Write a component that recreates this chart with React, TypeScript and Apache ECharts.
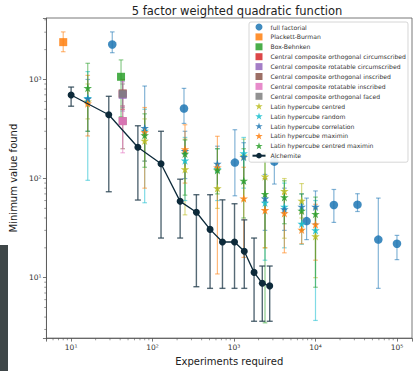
import React, { useEffect, useRef } from 'react';
import * as echarts from 'echarts';

const X_MIN = 4.98;
const X_MAX = 153000;
const Y_MIN = 2.455;
const Y_MAX = 4170;

const TITLE = '5 factor weighted quadratic function';
const X_NAME = 'Experiments required';
const Y_NAME = 'Minimum value found';
const SUPERSCRIPTS = ['⁰', '¹', '²', '³', '⁴', '⁵', '⁶'];

// full factorial
const FF_X = [32, 243, 1024, 3125, 7776, 16807, 32768, 59049, 100000];
const FF_Y = [2255, 509, 145, 148, 37.2, 54.1, 54.5, 24.2, 22];
const FF_LO = [1862, 360, 67, 88, 24.2, 36.1, 46.5, 7.8, 15.2];
const FF_HI = [3020, 813, 311, 260, 63.5, 77.6, 70.3, 63.5, 26.7];

// Plackett-Burman
const PB_X = [8];
const PB_Y = [2380];
const PB_LO = [1905];
const PB_HI = [3020];

// Box-Behnken
const BB_X = [41];
const BB_Y = [1064];
const BB_LO = [420];
const BB_HI = [1575];

// Central composite designs
const CC_X = [43];
const CCOC_Y = [720];
const CCOC_LO = [500];
const CCOC_HI = [1000];
const CCRC_Y = [700];
const CCRC_LO = [480];
const CCRC_HI = [950];
const CCOI_Y = [380];
const CCOI_LO = [200];
const CCOI_HI = [540];
const CCRI_Y = [380];
const CCRI_LO = [182];
const CCRI_HI = [537];
const CCOF_Y = [719];
const CCOF_LO = [520];
const CCOF_HI = [900];

// Latin hypercube designs
const LHS_X = [16, 80, 250, 625, 1315, 2400, 4150, 6760, 10000];
const LHC_Y = [600, 241, 124, 80, 170, 105, 75, 59.8, 26.1];
const LHC_LO = [400, 150, 43, 50, 60, 20, 25, 40, 10];
const LHC_HI = [900, 400, 250, 140, 250, 180, 100, 89, 50];
const LHR_Y = [650, 304, 152, 125, 180, 57, 52, 34.9, 30];
const LHR_LO = [96, 57, 60, 60, 80, 15, 20, 21.7, 3.7];
const LHR_HI = [1200, 500, 260, 200, 260, 100, 90, 55, 60];
const LHK_Y = [640, 324, 190, 141, 165, 63, 49, 52, 52];
const LHK_LO = [300, 150, 100, 80, 90, 30, 30, 35, 35];
const LHK_HI = [1000, 858, 300, 212, 230, 110, 80, 70, 75];
const LHM_Y = [571, 293, 197, 129, 63, 48, 44.7, 30.4, 34.4];
const LHM_LO = [269, 80, 90, 10.9, 16, 20, 17.8, 22, 15];
const LHM_HI = [1100, 521, 349, 267, 130, 100, 70, 45, 55];
const LHCM_Y = [818, 273, 178, 121, 95, 70, 64.6, 47.4, 43.9];
const LHCM_LO = [300, 130, 68, 70, 40, 3.5, 35, 30, 8];
const LHCM_HI = [1456, 450, 245, 200, 200, 150, 95, 70, 65];

// Alchemite
const AL_X = [10, 29, 66, 127, 218, 345, 508, 721, 1014, 1336, 1762, 2223, 2741];
const AL_Y = [697, 440, 207, 141, 58.9, 45.7, 30.7, 22.9, 22.9, 18.5, 11.3, 8.77, 8.26];
const AL_LO = [537, 73.6, 60.7, 25.1, 25.1, 8.1, 7.8, 7.8, 7.8, 7.8, 3.63, 3.63, 3.63];
const AL_HI = [838, 676, 341, 300, 98.5, 68.7, 68.7, 61, 55.7, 38.3, 25.1, 13.1, 13.1];

const STAR = 'path://M50,2 L61.2,36.2 L97.6,36.2 L68.2,57.6 L79.4,92 L50,70.8 L20.6,92 L31.8,57.6 L2.4,36.2 L38.8,36.2 Z';
const SQUARE = 'path://M0,0 L10,0 L10,10 L0,10 Z';
const FONT = 'DejaVu Sans';

type Spec = { name: string; color: string; symbol: string; size: number; x: number[]; y: number[]; lo: number[]; hi: number[]; legendIcon: string };

const SPECS: Spec[] = [
  { name: 'full factorial', color: '#1f77b4', symbol: 'circle', size: 8.5, x: FF_X, y: FF_Y, lo: FF_LO, hi: FF_HI, legendIcon: 'circle' },
  { name: 'Plackett-Burman', color: '#ff7f0e', symbol: SQUARE, size: 8, x: PB_X, y: PB_Y, lo: PB_LO, hi: PB_HI, legendIcon: SQUARE },
  { name: 'Box-Behnken', color: '#2ca02c', symbol: SQUARE, size: 8, x: BB_X, y: BB_Y, lo: BB_LO, hi: BB_HI, legendIcon: SQUARE },
  { name: 'Central composite orthogonal circumscribed', color: '#d62728', symbol: SQUARE, size: 8, x: CC_X, y: CCOC_Y, lo: CCOC_LO, hi: CCOC_HI, legendIcon: SQUARE },
  { name: 'Central composite rotatable circumscribed', color: '#9467bd', symbol: SQUARE, size: 8, x: CC_X, y: CCRC_Y, lo: CCRC_LO, hi: CCRC_HI, legendIcon: SQUARE },
  { name: 'Central composite orthogonal inscribed', color: '#8c564b', symbol: SQUARE, size: 8, x: CC_X, y: CCOI_Y, lo: CCOI_LO, hi: CCOI_HI, legendIcon: SQUARE },
  { name: 'Central composite rotatable inscribed', color: '#e377c2', symbol: SQUARE, size: 8, x: CC_X, y: CCRI_Y, lo: CCRI_LO, hi: CCRI_HI, legendIcon: SQUARE },
  { name: 'Central composite orthogonal faced', color: '#7f7f7f', symbol: SQUARE, size: 8, x: CC_X, y: CCOF_Y, lo: CCOF_LO, hi: CCOF_HI, legendIcon: SQUARE },
  { name: 'Latin hypercube centred', color: '#bcbd22', symbol: STAR, size: 8.5, x: LHS_X, y: LHC_Y, lo: LHC_LO, hi: LHC_HI, legendIcon: STAR },
  { name: 'Latin hypercube random', color: '#17becf', symbol: STAR, size: 8.5, x: LHS_X, y: LHR_Y, lo: LHR_LO, hi: LHR_HI, legendIcon: STAR },
  { name: 'Latin hypercube correlation', color: '#1f77b4', symbol: STAR, size: 8.5, x: LHS_X, y: LHK_Y, lo: LHK_LO, hi: LHK_HI, legendIcon: STAR },
  { name: 'Latin hypercube maximin', color: '#ff7f0e', symbol: STAR, size: 8.5, x: LHS_X, y: LHM_Y, lo: LHM_LO, hi: LHM_HI, legendIcon: STAR },
  { name: 'Latin hypercube centred maximin', color: '#2ca02c', symbol: STAR, size: 8.5, x: LHS_X, y: LHCM_Y, lo: LHCM_LO, hi: LHCM_HI, legendIcon: STAR },
];

const AL_NAME = 'Alchemite';
const AL_COLOR = '#0d2a3a';

function minorTicks(lo: number, hi: number): number[] {
  const out: number[] = [];
  for (let k = -1; k <= 6; k++) {
    for (let m = 2; m <= 9; m++) {
      const v = m * Math.pow(10, k);
      if (v > lo && v < hi) out.push(v);
    }
  }
  return out;
}

function errorBarSeries(name: string, color: string, x: number[], lo: number[], hi: number[], opacity: number, width: number, cap: number, z: number) {
  return {
    type: 'custom',
    name: name + ' (error)',
    z,
    silent: true,
    clip: true,
    encode: { x: 0, y: [1, 2] },
    data: x.map((v, i) => [v, lo[i], hi[i]]),
    renderItem: (_p: any, api: any) => {
      const xv = api.value(0);
      const pLo = api.coord([xv, api.value(1)]);
      const pHi = api.coord([xv, api.value(2)]);
      const style = { stroke: color, lineWidth: width, opacity };
      return {
        type: 'group',
        children: [
          { type: 'line', shape: { x1: pLo[0], y1: pLo[1], x2: pHi[0], y2: pHi[1] }, style },
          { type: 'line', shape: { x1: pLo[0] - cap, y1: pLo[1], x2: pLo[0] + cap, y2: pLo[1] }, style },
          { type: 'line', shape: { x1: pHi[0] - cap, y1: pHi[1], x2: pHi[0] + cap, y2: pHi[1] }, style },
        ],
      };
    },
  };
}

function powLabel(v: number): string {
  const e = Math.log10(v);
  const r = Math.round(e);
  if (Math.abs(e - r) > 1e-6) return '';
  return '10' + (SUPERSCRIPTS[r] ?? '');
}

export default function App() {
  const ref = useRef<HTMLDivElement>(null);
  useEffect(() => {
    if (!ref.current) return;
    const chart = echarts.init(ref.current, undefined, { renderer: 'svg' });
    const series: any[] = [];
    SPECS.forEach((s, i) => {
      series.push(errorBarSeries(s.name, s.color, s.x, s.lo, s.hi, 0.55, 1.2, 2.3, 2 + i * 0.01));
    });
    SPECS.forEach((s, i) => {
      series.push({
        type: 'scatter',
        name: s.name,
        symbol: s.symbol,
        symbolSize: s.size,
        z: 3 + i * 0.01,
        itemStyle: { color: s.color, opacity: 0.85 },
        data: s.x.map((v, j) => [v, s.y[j]]),
      });
    });
    series.push(errorBarSeries(AL_NAME, '#2a4352', AL_X, AL_LO, AL_HI, 0.8, 1.4, 3, 4));
    series.push({
      type: 'line',
      name: AL_NAME,
      symbol: 'circle',
      symbolSize: 7,
      z: 5,
      lineStyle: { color: AL_COLOR, width: 1.3 },
      itemStyle: { color: AL_COLOR },
      data: AL_X.map((v, j) => [v, AL_Y[j]]),
    });
    // minor ticks (matplotlib-style 2..9 per decade)
    series.push({
      type: 'custom',
      name: 'x minor',
      silent: true,
      clip: false,
      z: 1,
      data: minorTicks(X_MIN, X_MAX).map((v) => [v, Y_MIN]),
      renderItem: (_p: any, api: any) => {
        const p = api.coord([api.value(0), api.value(1)]);
        return { type: 'line', shape: { x1: p[0], y1: p[1], x2: p[0], y2: p[1] + 2.2 }, style: { stroke: '#555', lineWidth: 0.6 } };
      },
    });
    series.push({
      type: 'custom',
      name: 'y minor',
      silent: true,
      clip: false,
      z: 1,
      data: minorTicks(Y_MIN, Y_MAX).map((v) => [X_MIN, v]),
      renderItem: (_p: any, api: any) => {
        const p = api.coord([api.value(0), api.value(1)]);
        return { type: 'line', shape: { x1: p[0] - 2.2, y1: p[1], x2: p[0], y2: p[1] }, style: { stroke: '#555', lineWidth: 0.6 } };
      },
    });

    chart.setOption({
      animation: false,
      backgroundColor: '#fff',
      textStyle: { fontFamily: FONT },
      title: {
        text: TITLE,
        left: 232,
        top: 0,
        textAlign: 'center',
        textStyle: { fontFamily: FONT, fontSize: 11.5, fontWeight: 'normal', color: '#222' },
      },
      grid: {
        left: 44.7,
        top: 18,
        right: -4,
        bottom: 29,
        show: true,
        borderColor: '#555',
        borderWidth: 0.8,
        backgroundColor: 'transparent',
      },
      legend: {
        left: 249,
        top: 22,
        orient: 'vertical',
        itemWidth: 13,
        itemHeight: 7,
        itemGap: 2.9,
        padding: [1.5, 2, 3, 2.5],
        backgroundColor: 'rgba(255,255,255,0.9)',
        borderColor: '#ccc',
        borderWidth: 0.8,
        borderRadius: 2,
        textStyle: { fontFamily: FONT, fontSize: 6.1, color: '#333', lineHeight: 7 },
        data: [
          ...SPECS.map((s) => ({ name: s.name, icon: s.legendIcon })),
          { name: AL_NAME },
        ],
      },
      xAxis: {
        type: 'log',
        logBase: 10,
        min: X_MIN,
        max: X_MAX,
        name: X_NAME,
        nameLocation: 'middle',
        nameGap: 15,
        nameTextStyle: { fontFamily: FONT, fontSize: 10, color: '#222' },
        axisLine: { show: true, lineStyle: { color: '#555', width: 0.8 } },
        axisTick: { show: true, length: 3.5, lineStyle: { color: '#555', width: 0.8 } },
        axisLabel: { formatter: powLabel, fontFamily: FONT, fontSize: 7.5, color: '#333', margin: 5 },
        splitLine: { show: false },
      },
      yAxis: {
        type: 'log',
        logBase: 10,
        min: Y_MIN,
        max: Y_MAX,
        name: Y_NAME,
        nameLocation: 'middle',
        nameGap: 23,
        nameTextStyle: { fontFamily: FONT, fontSize: 10, color: '#222' },
        axisLine: { show: true, lineStyle: { color: '#555', width: 0.8 } },
        axisTick: { show: true, length: 3.5, lineStyle: { color: '#555', width: 0.8 } },
        axisLabel: { formatter: powLabel, fontFamily: FONT, fontSize: 7.5, color: '#333', margin: 5 },
        splitLine: { show: false },
      },
      graphic: [
        {
          type: 'rect',
          shape: { x: 0, y: 245, width: 8, height: 126 },
          style: { fill: '#3e4648' },
          silent: true,
        },
      ],
      series,
    });
    return () => chart.dispose();
  }, []);
  return <div ref={ref} style={{ position: 'fixed', left: 0, top: 0, width: 415, height: 371 }} />;
}
